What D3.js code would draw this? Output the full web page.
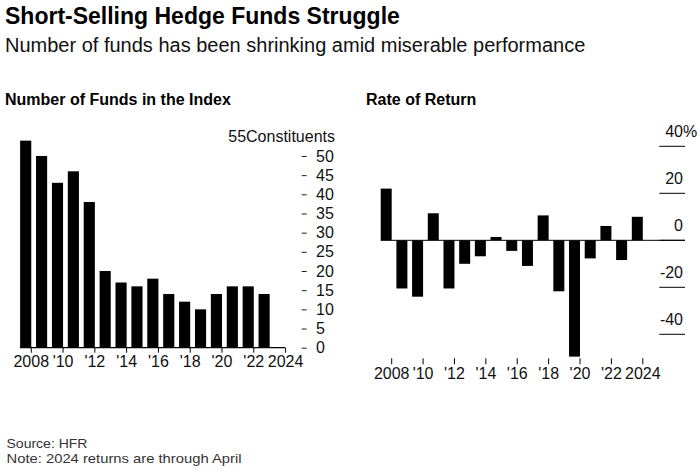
<!DOCTYPE html>
<html>
<head>
<meta charset="utf-8">
<script src="https://cdn.jsdelivr.net/npm/d3@7"></script>
<style>
  body { margin: 0; background: #fff; }
  svg { display: block; font-family: "Liberation Sans", Arial, Helvetica, sans-serif; }
</style>
</head>
<body>
<svg id="chart" width="700" height="475"></svg>
<script>
// data
var fundYears = d3.range(2008, 2024);
var fundCounts = [54, 50, 43, 46, 38, 20, 17, 16, 18, 14, 12, 10, 14, 16, 16, 14];

var returnYears = d3.range(2008, 2025);
var returnRates = [22, -20.5, -24, 11.5, -20.5, -10, -6.8, 1.4, -4.5, -10.9, 10.6, -21.7, -49.5, -7.7, 6.1, -8.4, 10];

var axisYears = d3.range(2008, 2025);
var yearTicks = [2008, 2010, 2012, 2014, 2016, 2018, 2020, 2022, 2024];
var fundTicks = d3.range(0, 55, 5);
var returnTicks = [-40, -20, 0, 20, 40];

var svg = d3.select("#chart");

function yearLabel(d) {
  return (d === 2008 || d === 2024) ? String(d) : "'" + String(d).slice(2);
}

// headings
svg.append("text").attr("x", 5).attr("y", 24)
  .style("font-size", "23px").style("font-weight", "bold").attr("fill", "#000")
  .text("Short-Selling Hedge Funds Struggle");
svg.append("text").attr("x", 5).attr("y", 51.5)
  .style("font-size", "20px").attr("fill", "#111")
  .text("Number of funds has been shrinking amid miserable performance");
svg.append("text").attr("x", 5).attr("y", 105)
  .style("font-size", "16px").style("font-weight", "bold").attr("fill", "#000")
  .text("Number of Funds in the Index");
svg.append("text").attr("x", 366).attr("y", 105)
  .style("font-size", "16px").style("font-weight", "bold").attr("fill", "#000")
  .text("Rate of Return");

// ---- left panel: number of funds ----
var xL = d3.scaleBand().domain(axisYears).range([17.75, 287.95]).paddingInner(0.3).paddingOuter(0.15);
var yL = d3.scaleLinear().domain([0, 55]).range([347.7, 136.8]);
var left = svg.append("g");

left.selectAll("rect.fund").data(fundCounts).join("rect")
  .attr("class", "fund")
  .attr("x", function(d, i) { return xL(fundYears[i]); })
  .attr("width", xL.bandwidth())
  .attr("y", function(d) { return yL(d); })
  .attr("height", function(d) { return yL(0) - yL(d); })
  .attr("fill", "#000");

left.append("line")
  .attr("x1", 20).attr("x2", 285)
  .attr("y1", yL(0)).attr("y2", yL(0))
  .attr("stroke", "#000").attr("stroke-width", 1.2);

var lxAxis = left.append("g")
  .attr("transform", "translate(" + (xL.bandwidth() / 2) + "," + yL(0) + ")")
  .call(d3.axisBottom(xL).tickValues(yearTicks).tickFormat(yearLabel).tickSize(5).tickPadding(3));
lxAxis.select(".domain").remove();
lxAxis.selectAll("line").attr("stroke", "#000");
lxAxis.selectAll("text").style("font-size", "16px").attr("fill", "#111").attr("font-family", null);

var lyAxis = left.append("g")
  .attr("transform", "translate(301.7,0)")
  .call(d3.axisRight(yL).tickValues(fundTicks).tickSize(5).tickPadding(9.3));
lyAxis.select(".domain").remove();
lyAxis.selectAll("line").attr("stroke", "#222");
lyAxis.selectAll("text").style("font-size", "16px").attr("fill", "#111").attr("font-family", null);

left.append("text")
  .attr("x", 335).attr("y", yL(55)).attr("dy", "0.35em")
  .attr("text-anchor", "end").style("font-size", "16px").attr("fill", "#111")
  .text("55Constituents");

// ---- right panel: rate of return ----
var xR = d3.scaleBand().domain(axisYears).range([378.35, 645.15]).paddingInner(0.3).paddingOuter(0.15);
var yR = d3.scaleLinear().domain([-50, 45]).range([357.8, 134.55]);
var right = svg.append("g");

right.selectAll("rect.ret").data(returnRates).join("rect")
  .attr("class", "ret")
  .attr("x", function(d, i) { return xR(returnYears[i]); })
  .attr("width", xR.bandwidth())
  .attr("y", function(d) { return yR(Math.max(0, d)); })
  .attr("height", function(d) { return Math.abs(yR(d) - yR(0)); })
  .attr("fill", "#000");

// zero line runs into the tick area
right.append("line")
  .attr("x1", xR(2008)).attr("x2", 685)
  .attr("y1", yR(0)).attr("y2", yR(0))
  .attr("stroke", "#000").attr("stroke-width", 1);

var rTicks = right.selectAll("g.rtick").data(returnTicks).join("g")
  .attr("class", "rtick")
  .attr("transform", function(d) { return "translate(0," + yR(d) + ")"; });
rTicks.append("line")
  .attr("x1", 659.3).attr("x2", 685)
  .attr("stroke", "#000").attr("stroke-width", 1);
rTicks.append("text")
  .attr("x", 683).attr("y", -9)
  .attr("text-anchor", "end").style("font-size", "16px").attr("fill", "#111")
  .text(function(d) { return d; });
right.append("text")
  .attr("x", 683).attr("y", yR(40) - 9)
  .style("font-size", "16px").attr("fill", "#111")
  .text("%");

var rxAxis = right.append("g")
  .attr("transform", "translate(" + (xR.bandwidth() / 2) + ",358.3)")
  .call(d3.axisBottom(xR).tickValues(yearTicks).tickFormat(yearLabel).tickSize(6).tickPadding(3));
rxAxis.select(".domain").remove();
rxAxis.selectAll("line").attr("stroke", "#000");
rxAxis.selectAll("text").style("font-size", "16px").attr("fill", "#111").attr("font-family", null);

// footnotes (stretched a little to the reference width)
svg.append("text").attr("x", 6.5).attr("y", 448)
  .style("font-size", "13px").attr("fill", "#333")
  .attr("textLength", 81).attr("lengthAdjust", "spacingAndGlyphs")
  .text("Source: HFR");
svg.append("text").attr("x", 6.5).attr("y", 463)
  .style("font-size", "13px").attr("fill", "#333")
  .attr("textLength", 235).attr("lengthAdjust", "spacingAndGlyphs")
  .text("Note: 2024 returns are through April");
</script>
</body>
</html>
